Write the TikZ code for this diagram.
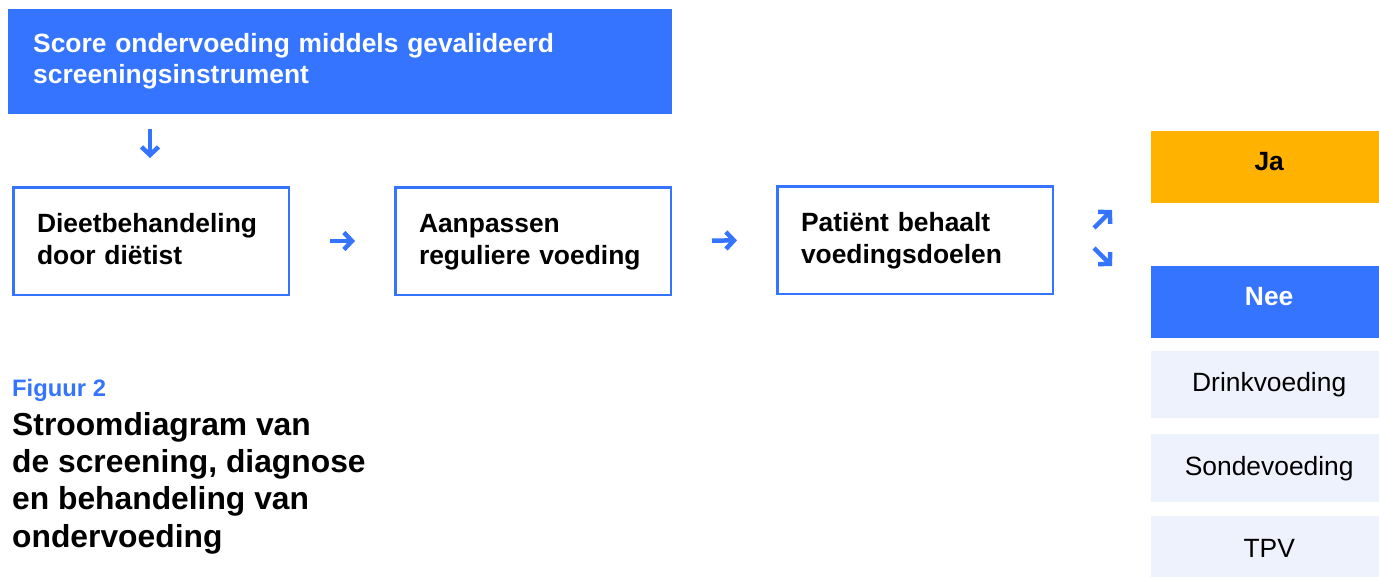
\documentclass[tikz,border=0pt]{standalone}
\usepackage{fontspec}
\setmainfont{Liberation Sans}
\usetikzlibrary{arrows.meta}
\definecolor{mblue}{RGB}{53,116,255}
\definecolor{morange}{RGB}{255,178,0}
\definecolor{mlight}{RGB}{238,242,253}
\begin{document}
\begin{tikzpicture}[x=1pt, y=-1pt,
    stap/.style={draw=mblue, line width=2.5pt, fill=white, anchor=north west, minimum width=275.5pt,
                 minimum height=107.5pt, text width=228pt, inner xsep=23pt, align=left,
                 font=\fontsize{26.4}{32}\selectfont\bfseries},
    optie/.style={fill=mlight, anchor=north west, minimum width=236pt, inner sep=0pt,
                  font=\fontsize{26.4}{30}\selectfont},
    keuze/.style={anchor=north west, minimum width=236pt, minimum height=72pt, inner sep=0pt,
                  text depth=11pt, font=\fontsize{26.4}{30}\selectfont\bfseries},
    pijl/.style={mblue, line width=4.5pt, -{Straight Barb[length=8pt, width=17pt]}}]
    \useasboundingbox (0,0) rectangle (1379,576);
    \node[fill=mblue, anchor=north west, minimum width=664pt, minimum height=105pt, text width=614pt,
          inner xsep=25pt, align=left, text=white, font=\fontsize{26.4}{31}\selectfont\bfseries]
        (score) at (8,9) {Score ondervoeding middels gevalideerd\\screeningsinstrument\\[-25pt]\mbox{}};
    \node[stap] (dieet) at (12,186) {Dieetbehandeling\\door diëtist\\[-28pt]\mbox{}};
    \node[stap] (aanpas) at (394,186) {Aanpassen\\reguliere voeding\\[-28pt]\mbox{}};
    \node[stap] (doel) at (776,185) {Patiënt behaalt\\voedingsdoelen\\[-28pt]\mbox{}};
    \node[keuze, fill=morange] (ja) at (1151,131) {Ja};
    \node[keuze, fill=mblue, text=white] (nee) at (1151,266) {Nee};
    \node[optie, minimum height=67pt] (drink) at (1151,351) {Drinkvoeding};
    \node[optie, minimum height=68pt] (sonde) at (1151,434) {Sondevoeding};
    \node[optie, minimum height=64pt] (tpv) at (1151,516) {TPV};
    % pijlen
    \coordinate (p1) at (150,129); \coordinate (p2) at (150,158);
    \draw[pijl] (p1) -- (p2);
    \draw[pijl, shorten <=40pt, shorten >=39pt] (dieet.east) -- (aanpas.west);
    \draw[pijl, shorten <=40pt, shorten >=39pt] (aanpas.east) -- (doel.west);
    \coordinate (j1) at (1094,228); \coordinate (j2) at (1112,210);
    \coordinate (n1) at (1094,248); \coordinate (n2) at (1112,266);
    \draw[pijl] (j1) -- (j2);
    \draw[pijl] (n1) -- (n2);
    % bijschrift
    \node[anchor=north west, inner sep=0pt, text=mblue, font=\fontsize{23.8}{28}\selectfont\bfseries]
        (fig) at (12,379) {Figuur 2};
    \node[anchor=north west, inner sep=0pt, align=left, font=\fontsize{31.8}{37.3}\selectfont\bfseries]
        (titel) at (12,412) {Stroomdiagram van\\de screening, diagnose\\en behandeling van\\ondervoeding};
\end{tikzpicture}
\end{document}
